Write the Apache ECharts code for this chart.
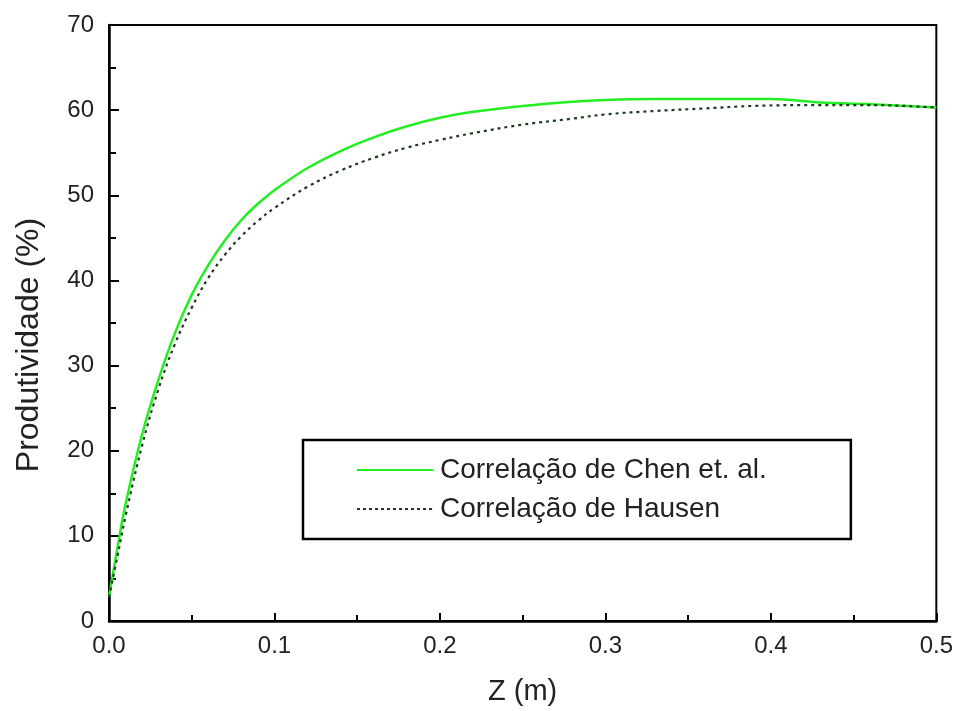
<!DOCTYPE html>
<html>
<head>
<meta charset="utf-8">
<script src="https://cdn.jsdelivr.net/npm/echarts@6/dist/echarts.min.js"></script>
<style>
html,body{margin:0;padding:0;background:#fff;}
#chart{width:956px;height:711px;}
</style>
</head>
<body>
<div id="chart"></div>
<script>
const chenZ = [0, 0.005, 0.01, 0.02, 0.03, 0.04, 0.05, 0.06, 0.07, 0.08, 0.09, 0.1, 0.12, 0.14, 0.16, 0.18, 0.2, 0.22, 0.25, 0.28, 0.3, 0.33, 0.36, 0.4, 0.43, 0.46, 0.5];
const chenValues = [2.8, 8.5, 13.7, 21.9, 28.4, 33.9, 38.3, 41.8, 44.7, 47.1, 49.0, 50.6, 53.2, 55.2, 56.8, 58.1, 59.1, 59.8, 60.5, 61.0, 61.2, 61.3, 61.3, 61.3, 60.9, 60.7, 60.3];
const hausenZ = [0, 0.005, 0.01, 0.02, 0.03, 0.04, 0.05, 0.06, 0.07, 0.08, 0.09, 0.1, 0.12, 0.14, 0.16, 0.18, 0.2, 0.22, 0.25, 0.28, 0.3, 0.33, 0.36, 0.39, 0.43, 0.46, 0.5];
const hausenValues = [2.8, 7.5, 12.3, 20.6, 27.3, 32.6, 36.8, 40.3, 43.0, 45.2, 47.0, 48.5, 51.0, 52.9, 54.4, 55.6, 56.5, 57.3, 58.3, 59.0, 59.5, 59.9, 60.2, 60.5, 60.6, 60.6, 60.3];
const seriesNames = ['Correlação de Chen et. al.', 'Correlação de Hausen'];
const xTicks = [0, 0.1, 0.2, 0.3, 0.4, 0.5];
const yTicks = [0, 10, 20, 30, 40, 50, 60, 70];

const chenData = chenZ.map((z, i) => [z, chenValues[i]]);
const hausenData = hausenZ.map((z, i) => [z, hausenValues[i]]);

// dotted legend sample path
let dotPath = 'path://';
for (let x = 0; x < 76; x += 6) { dotPath += 'M' + x + ',6 L' + (x + 3) + ',6 L' + (x + 3) + ',8 L' + x + ',8 Z '; }
dotPath += 'M75.9,6 L76,6 L76,8 L75.9,8 Z';

const font = 'Liberation Sans, Arial, sans-serif';
const chart = echarts.init(document.getElementById('chart'));
chart.setOption({
  animation: false,
  backgroundColor: '#fff',
  grid: { left: 109, right: 19, top: 25, bottom: 89, show: true, borderColor: '#000', borderWidth: 2, backgroundColor: 'transparent' },
  legend: {
    orient: 'vertical', left: 303, top: 440,
    padding: [16, 84, 16, 54],
    itemGap: 11, itemWidth: 76, itemHeight: 14,
    borderColor: '#000', borderWidth: 2.5, backgroundColor: '#fff',
    textStyle: { fontFamily: font, fontSize: 28, color: '#222', padding: [0, 0, 0, 2] },
    data: [
      { name: seriesNames[0], icon: 'path://M0,6 L76,6 L76,8 L0,8 Z' },
      { name: seriesNames[1], icon: dotPath }
    ]
  },
  xAxis: {
    type: 'value', min: xTicks[0], max: xTicks[xTicks.length - 1], interval: 0.1,
    name: 'Z (m)', nameLocation: 'middle', nameGap: 56,
    nameTextStyle: { fontFamily: font, fontSize: 29, color: '#222' },
    axisLine: { show: true, lineStyle: { color: '#000', width: 2.5 } },
    axisTick: { show: true, inside: true, length: 8, lineStyle: { color: '#000', width: 2 } },
    minorTick: { show: true, splitNumber: 2, length: 6, lineStyle: { color: '#000', width: 2 } },
    splitLine: { show: false },
    axisLabel: { fontFamily: font, fontSize: 24, color: '#222', margin: 13, formatter: v => v.toFixed(1) }
  },
  yAxis: {
    type: 'value', min: yTicks[0], max: yTicks[yTicks.length - 1], interval: 10,
    name: 'Produtividade (%)', nameLocation: 'middle', nameGap: 64, nameRotate: 90,
    nameTextStyle: { fontFamily: font, fontSize: 32, color: '#222', padding: [0, 44, 0, 0] },
    axisLine: { show: true, lineStyle: { color: '#000', width: 2.5 } },
    axisTick: { show: true, inside: true, length: 10, lineStyle: { color: '#000', width: 2 } },
    minorTick: { show: true, splitNumber: 2, length: 7, lineStyle: { color: '#000', width: 2 } },
    splitLine: { show: false },
    axisLabel: { fontFamily: font, fontSize: 24, color: '#222', margin: 15 }
  },
  series: [
    {
      name: seriesNames[0], type: 'line', data: chenData, smooth: 0.4, symbol: 'none',
      lineStyle: { color: '#22ee22', width: 2.5 }, itemStyle: { color: '#22ee22' }, z: 2
    },
    {
      name: seriesNames[1], type: 'line', data: hausenData, smooth: 0.4, symbol: 'none',
      lineStyle: { color: '#1f3a1f', width: 2.2, type: [3, 4] }, itemStyle: { color: '#1f3a1f' }, z: 3
    }
  ]
});
</script>
</body>
</html>
